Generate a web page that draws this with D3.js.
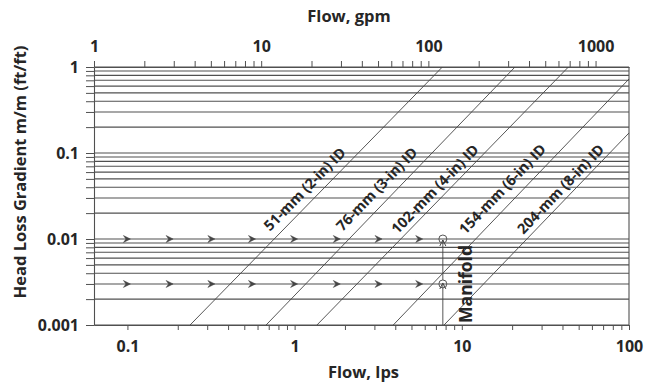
<!DOCTYPE html>
<html><head><meta charset="utf-8">
<script src="https://cdn.jsdelivr.net/npm/d3@7"></script>
<style>
body{margin:0;background:#fff}
svg{display:block}
text{font-family:"Open Sans",sans-serif;font-weight:700;fill:#262626}
</style>
</head><body><svg id="chart" width="646" height="387"></svg>
<script>
// ---- data ----
const flowDomainLps = [0.0631, 100];
const gpmPerLps = 15.85;
const gradientDomain = [0.001, 1];
const bottomTickLabels = [0.1, 1, 10, 100];
const topTickLabels = [1, 10, 100, 1000];
const leftTickLabels = [0.001, 0.01, 0.1, 1];
const pipeNames = ["51-mm (2-in) ID", "76-mm (3-in) ID", "102-mm (4-in) ID", "154-mm (6-in) ID", "204-mm (8-in) ID"];
const pipeStartQ = [0.237, 0.675, 1.36, 3.89, 7.83];
const pipeStartJ = [0.001, 0.001, 0.001, 0.001, 0.001];
const pipeEndQ = [7.65, 20.8, 43.4, 100, 100];
const pipeEndJ = [1, 1, 1, 0.725, 0.171];
const labelQ = [1.15, 3.1, 6.9, 17.5, 39];
const labelJ = [0.038, 0.038, 0.038, 0.038, 0.038];
const arrowRowsJ = [0.01, 0.003];
const arrowQ = [0.1, 0.18, 0.32, 0.56, 1.0, 1.8, 3.2, 5.6];
const manifoldQ = 7.7;
const manifoldJ = [0.001, 0.003, 0.01];
const manifoldLabel = "Manifold";
const manifoldLabelQ = 10.6;
const manifoldLabelJ = 0.0030;

// ---- layout ----
const W = 646, H = 387;
const m = {left: 94, right: 17, top: 67, bottom: 62};
const svg = d3.select("#chart");
const x = d3.scaleLog().domain(flowDomainLps).range([m.left, W - m.right]);
const xTop = d3.scaleLog().domain(flowDomainLps.map(q => q * gpmPerLps)).range([m.left, W - m.right]);
const y = d3.scaleLog().domain(gradientDomain).range([H - m.bottom, m.top]);
const gridCol = "#505050";

// grid values: 1..9 per decade
const gridVals = [];
[0.001, 0.01, 0.1].forEach(d => { for (let k = 1; k <= 9; k++) gridVals.push(+(d * k).toPrecision(3)); });
gridVals.push(1);

// horizontal grid lines
svg.append("g").selectAll("line").data(gridVals).join("line")
  .attr("x1", m.left).attr("x2", W - m.right)
  .attr("y1", d => y(d)).attr("y2", d => y(d))
  .attr("stroke", gridCol).attr("stroke-width", 1.1);

// right border
svg.append("line").attr("x1", W - m.right).attr("x2", W - m.right)
  .attr("y1", m.top).attr("y2", H - m.bottom).attr("stroke", gridCol).attr("stroke-width", 1.1);

function styleAxis(g) {
  g.selectAll("path.domain").attr("stroke", gridCol).attr("stroke-width", 1.1);
  g.selectAll(".tick line").attr("stroke", gridCol).attr("stroke-width", 1);
  g.selectAll(".tick text").attr("font-family", "Open Sans, sans-serif").attr("font-weight", 700)
    .attr("font-size", 16).attr("fill", "#262626");
}
const fmt = d => (d >= 1 ? d3.format("d")(d) : String(d));

// left axis
const leftAxis = d3.axisLeft(y).tickValues(gridVals).tickSize(8).tickSizeOuter(0).tickPadding(7)
  .tickFormat(d => leftTickLabels.some(v => Math.abs(v - d) < 1e-9) ? fmt(d) : "");
svg.append("g").attr("transform", `translate(${m.left},0)`).call(leftAxis).call(styleAxis);

// bottom axis
const bottomTicks = [];
[0.1, 1, 10].forEach(d => { for (let k = 1; k <= 9; k++) bottomTicks.push(+(d * k).toPrecision(3)); });
bottomTicks.push(100);
const bottomAxis = d3.axisBottom(x).tickValues(bottomTicks).tickSize(5).tickSizeOuter(0).tickPadding(11)
  .tickFormat(d => bottomTickLabels.some(v => Math.abs(v - d) < 1e-9) ? fmt(d) : "");
svg.append("g").attr("transform", `translate(0,${H - m.bottom})`).call(bottomAxis).call(styleAxis);

// top axis (gpm)
const topTicks = [];
[1, 10, 100].forEach(d => { for (let k = 1; k <= 9; k++) topTicks.push(d * k); });
topTicks.push(1000);
const topAxis = d3.axisTop(xTop).tickValues(topTicks.filter(v => v >= xTop.domain()[0] - 0.01)).tickSize(6).tickSizeOuter(0).tickPadding(9)
  .tickFormat(d => topTickLabels.includes(d) ? fmt(d) : "");
svg.append("g").attr("transform", `translate(0,${m.top})`).call(topAxis).call(styleAxis);

// pipe lines
const line = d3.line().x(d => x(d[0])).y(d => y(d[1]));
const pipes = pipeNames.map((n, i) => ({name: n, pts: [[pipeStartQ[i], pipeStartJ[i]], [pipeEndQ[i], pipeEndJ[i]]], lq: labelQ[i], lj: labelJ[i]}));
svg.append("g").selectAll("path").data(pipes).join("path")
  .attr("d", d => line(d.pts)).attr("fill", "none").attr("stroke", "#444").attr("stroke-width", 0.9);

// pipe labels
svg.append("g").selectAll("text").data(pipes).join("text")
  .attr("transform", d => {
    const dx = x(d.pts[1][0]) - x(d.pts[0][0]);
    const dy = y(d.pts[1][1]) - y(d.pts[0][1]);
    const ang = Math.atan2(dy, dx) * 180 / Math.PI;
    return `translate(${x(d.lq)},${y(d.lj)}) rotate(${ang})`;
  })
  .attr("text-anchor", "middle").attr("dy", "0.35em").attr("font-size", 14.5)
  .text(d => d.name);

// flow arrows on rows
const arrowPath = "M-7,-3.5L0,0L-7,3.5L-4.5,0Z";
arrowRowsJ.forEach(j => {
  svg.append("g").selectAll("path").data(arrowQ).join("path")
    .attr("transform", q => `translate(${x(q) + 3},${y(j)})`)
    .attr("d", arrowPath).attr("fill", "#444").attr("stroke", "#444").attr("stroke-width", 0.5);
});

// manifold verticals
const mx = x(manifoldQ);
const mg = svg.append("g");
mg.append("line").attr("x1", mx).attr("x2", mx).attr("y1", y(manifoldJ[0])).attr("y2", y(manifoldJ[1]))
  .attr("stroke", "#444").attr("stroke-width", 0.9);
mg.append("line").attr("x1", mx).attr("x2", mx).attr("y1", y(manifoldJ[1]) - 4).attr("y2", y(manifoldJ[2]) + 1)
  .attr("stroke", "#444").attr("stroke-width", 0.9);
const upArrow = "M-3,6L0,0L3,6";
mg.append("path").attr("transform", `translate(${mx},${y(manifoldJ[1]) - 1})`).attr("d", upArrow)
  .attr("fill", "none").attr("stroke", "#444").attr("stroke-width", 1);
mg.append("path").attr("transform", `translate(${mx},${y(manifoldJ[2]) + 1})`).attr("d", upArrow)
  .attr("fill", "none").attr("stroke", "#444").attr("stroke-width", 1);
mg.selectAll("circle").data(manifoldJ.slice(1)).join("circle")
  .attr("cx", mx).attr("cy", d => y(d)).attr("r", 4)
  .attr("fill", "none").attr("stroke", "#555").attr("stroke-width", 1);
svg.append("text").attr("transform", `translate(${x(manifoldLabelQ)},${y(manifoldLabelJ)}) rotate(-90)`)
  .attr("text-anchor", "middle").attr("dy", "0.35em").attr("font-size", 17.5).text(manifoldLabel);

// axis titles
svg.append("text").attr("x", 349).attr("y", 22).attr("text-anchor", "middle").attr("font-size", 16.5).text("Flow, gpm");
svg.append("text").attr("x", 363.5).attr("y", 378).attr("text-anchor", "middle").attr("font-size", 16.5).text("Flow, lps");
svg.append("text").attr("transform", "translate(26,172) rotate(-90)").attr("text-anchor", "middle")
  .attr("font-size", 16.5).text("Head Loss Gradient m/m (ft/ft)");
</script></body></html>
